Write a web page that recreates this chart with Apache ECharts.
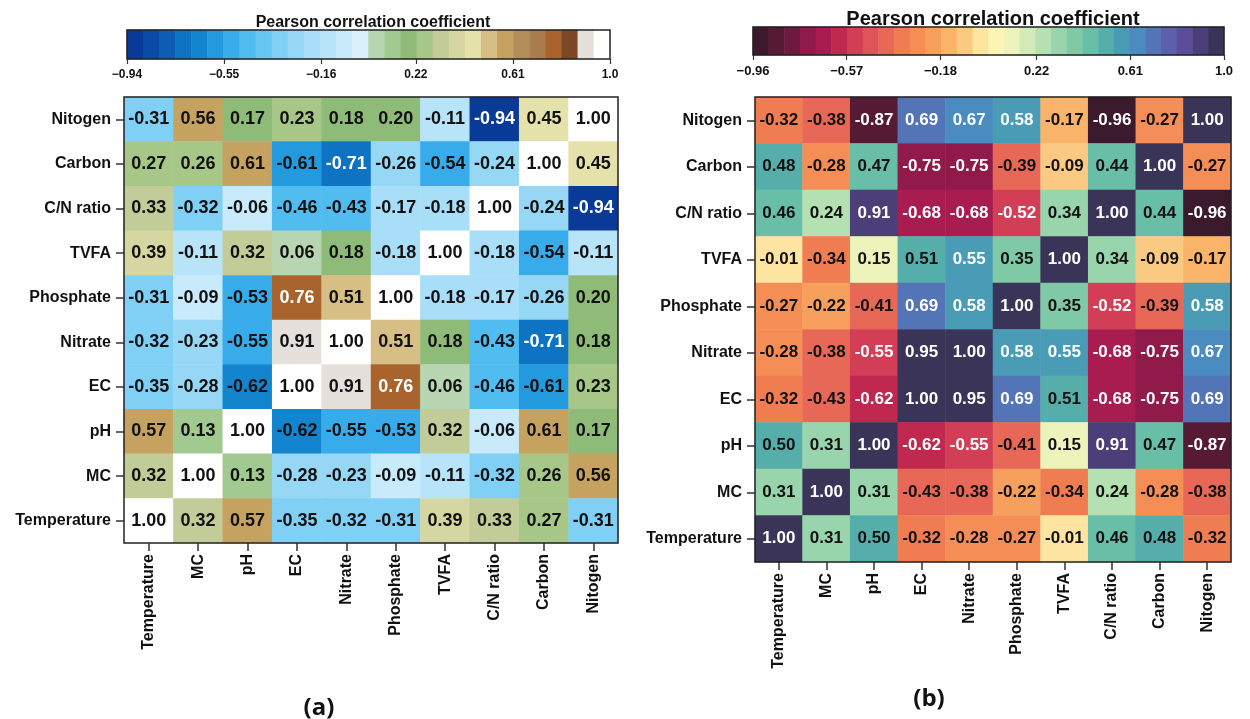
<!DOCTYPE html>
<html>
<head>
<meta charset="utf-8">
<title>Pearson correlation heatmaps</title>
<script src="https://cdn.jsdelivr.net/npm/echarts@6.0.0/dist/echarts.min.js"></script>
<style>
html, body { margin: 0; padding: 0; background: #fff; }
#main { width: 1250px; height: 719px; }
</style>
</head>
<body>
<div id="main"></div>
<script>
var variables = ['Temperature', 'MC', 'pH', 'EC', 'Nitrate', 'Phosphate', 'TVFA', 'C/N ratio', 'Carbon', 'Nitogen'];

// rows from top (Nitogen) to bottom (Temperature), columns in `variables` order
var rowsA = [
    [-0.31, 0.56, 0.17, 0.23, 0.18, 0.20, -0.11, -0.94, 0.45, 1.00],
    [0.27, 0.26, 0.61, -0.61, -0.71, -0.26, -0.54, -0.24, 1.00, 0.45],
    [0.33, -0.32, -0.06, -0.46, -0.43, -0.17, -0.18, 1.00, -0.24, -0.94],
    [0.39, -0.11, 0.32, 0.06, 0.18, -0.18, 1.00, -0.18, -0.54, -0.11],
    [-0.31, -0.09, -0.53, 0.76, 0.51, 1.00, -0.18, -0.17, -0.26, 0.20],
    [-0.32, -0.23, -0.55, 0.91, 1.00, 0.51, 0.18, -0.43, -0.71, 0.18],
    [-0.35, -0.28, -0.62, 1.00, 0.91, 0.76, 0.06, -0.46, -0.61, 0.23],
    [0.57, 0.13, 1.00, -0.62, -0.55, -0.53, 0.32, -0.06, 0.61, 0.17],
    [0.32, 1.00, 0.13, -0.28, -0.23, -0.09, -0.11, -0.32, 0.26, 0.56],
    [1.00, 0.32, 0.57, -0.35, -0.32, -0.31, 0.39, 0.33, 0.27, -0.31]
];
var rowsB = [
    [-0.32, -0.38, -0.87, 0.69, 0.67, 0.58, -0.17, -0.96, -0.27, 1.00],
    [0.48, -0.28, 0.47, -0.75, -0.75, -0.39, -0.09, 0.44, 1.00, -0.27],
    [0.46, 0.24, 0.91, -0.68, -0.68, -0.52, 0.34, 1.00, 0.44, -0.96],
    [-0.01, -0.34, 0.15, 0.51, 0.55, 0.35, 1.00, 0.34, -0.09, -0.17],
    [-0.27, -0.22, -0.41, 0.69, 0.58, 1.00, 0.35, -0.52, -0.39, 0.58],
    [-0.28, -0.38, -0.55, 0.95, 1.00, 0.58, 0.55, -0.68, -0.75, 0.67],
    [-0.32, -0.43, -0.62, 1.00, 0.95, 0.69, 0.51, -0.68, -0.75, 0.69],
    [0.50, 0.31, 1.00, -0.62, -0.55, -0.41, 0.15, 0.91, 0.47, -0.87],
    [0.31, 1.00, 0.31, -0.43, -0.38, -0.22, -0.34, 0.24, -0.28, -0.38],
    [1.00, 0.31, 0.50, -0.32, -0.28, -0.27, -0.01, 0.46, 0.48, -0.32]
];

var rangeA = [-0.94, 1.0];
var rangeB = [-0.96, 1.0];
var ticksA = [-0.94, -0.55, -0.16, 0.22, 0.61, 1.0];
var tickLabelsA = ['\u22120.94', '\u22120.55', '\u22120.16', '0.22', '0.61', '1.0'];
var ticksB = [-0.96, -0.57, -0.18, 0.22, 0.61, 1.0];
var tickLabelsB = ['\u22120.96', '\u22120.57', '\u22120.18', '0.22', '0.61', '1.0'];

var colorsA = ['#0a3a98', '#0b4aa6', '#0d5db5', '#0e73c3', '#1385cf', '#229add', '#38aceb', '#50bcf0',
    '#68c6f2', '#80cff5', '#96d7f6', '#a8def8', '#b8e4f9', '#c8eafa', '#dcf0fb', '#b6d5b0',
    '#a2c990', '#8fbb78', '#a6c788', '#c2cc98', '#d6d6a2', '#e4e1ab', '#d6be84', '#c6a260',
    '#b48e5a', '#a87c4c', '#a8642c', '#7a4824', '#e6e0dc', '#ffffff'];
var colorsB = ['#3a1a2c', '#561a34', '#6e1a3e', '#901a4a', '#a81c50', '#c0284f', '#d23e56', '#de5458',
    '#e86858', '#f07c52', '#f48e56', '#f7a05e', '#f9b46a', '#fbca82', '#fde4a0', '#fdf4b6',
    '#ecf4bc', '#d2eab8', '#b4e0b2', '#98d4ac', '#80c9a6', '#68bea6', '#56aeaa', '#4a9cb6',
    '#4a8cc0', '#5474b8', '#5c60ac', '#5a4e98', '#4a3f78', '#3a3458'];

var font = "'Liberation Sans', Arial, sans-serif";

function makePieces(range, colors) {
    var n = colors.length;
    var step = (range[1] - range[0]) / n;
    var pieces = [];
    for (var i = 0; i < n; i++) {
        var p = { gte: range[0] + i * step - (i === 0 ? 1e-9 : 0), color: colors[i] };
        if (i < n - 1) p.lt = range[0] + (i + 1) * step;
        else p.lte = range[1] + 1e-9;
        pieces.push(p);
    }
    return pieces;
}

function cellData(rows, lightText) {
    var out = [];
    rows.forEach(function (row, r) {
        row.forEach(function (v, c) {
            out.push({
                value: [c, rows.length - 1 - r, v],
                label: { color: lightText(v) ? '#ffffff' : '#111111' }
            });
        });
    });
    return out;
}

function barData(range, n) {
    var step = (range[1] - range[0]) / n;
    var out = [];
    for (var i = 0; i < n; i++) out.push([i, 0, range[0] + (i + 0.5) * step]);
    return out;
}

function binNames(n) {
    var out = [];
    for (var i = 0; i < n; i++) out.push(String(i));
    return out;
}

function heatAxisX(gridIndex) {
    return {
        type: 'category', gridIndex: gridIndex, data: variables, position: 'bottom',
        axisLine: { show: false },
        axisTick: { show: true, alignWithLabel: true, length: 8, lineStyle: { color: '#333', width: 1.5 } },
        axisLabel: { rotate: 90, margin: 11, color: '#111', fontSize: 16, fontWeight: 'bold', fontFamily: font },
        splitLine: { show: false }
    };
}
function heatAxisY(gridIndex) {
    return {
        type: 'category', gridIndex: gridIndex, data: variables,
        axisLine: { show: false },
        axisTick: { show: true, alignWithLabel: true, length: 8, lineStyle: { color: '#333', width: 1.5 } },
        axisLabel: { margin: 13, color: '#111', fontSize: 16, fontWeight: 'bold', fontFamily: font },
        splitLine: { show: false }
    };
}
function barAxisCat(gridIndex, n) {
    return { type: 'category', gridIndex: gridIndex, data: binNames(n), position: 'top', show: false };
}
function barAxisValue(gridIndex, range, ticks, labels, size) {
    return {
        type: 'value', gridIndex: gridIndex, min: range[0], max: range[1], position: 'bottom',
        axisLine: { show: false },
        splitLine: { show: false },
        axisTick: { show: true, length: 5, customValues: ticks, lineStyle: { color: '#333', width: 1.2 } },
        axisLabel: {
            customValues: ticks, margin: 10, color: '#111', fontSize: size, fontWeight: 'bold', fontFamily: font,
            formatter: function (v) {
                var k = ticks.indexOf(v);
                return k >= 0 ? labels[k] : '';
            }
        }
    };
}

function heatSeries(xi, yi, data, size) {
    return {
        type: 'heatmap', xAxisIndex: xi, yAxisIndex: yi, data: data,
        label: {
            show: true, fontSize: size, fontWeight: 'bold', fontFamily: font,
            formatter: function (p) { return p.value[2].toFixed(2); }
        },
        emphasis: { disabled: true }
    };
}

var gridStyle = { show: true, z: 10, backgroundColor: 'transparent', borderColor: '#222', borderWidth: 1.5, containLabel: false };

var option = {
    backgroundColor: '#ffffff',
    animation: false,
    title: [
        { text: 'Pearson correlation coefficient', left: 368, top: 10, textAlign: 'center',
          textStyle: { fontSize: 16, fontWeight: 'bold', color: '#111', fontFamily: font } },
        { text: 'Pearson correlation coefficient', left: 988, top: 4, textAlign: 'center',
          textStyle: { fontSize: 20, fontWeight: 'bold', color: '#111', fontFamily: font } },
        { text: '(a)', left: 314, top: 691, textAlign: 'center',
          textStyle: { fontSize: 24, fontWeight: 'bold', color: '#111', fontFamily: "'Open Sans', sans-serif" } },
        { text: '(b)', left: 924, top: 682, textAlign: 'center',
          textStyle: { fontSize: 24, fontWeight: 'bold', color: '#111', fontFamily: "'Open Sans', sans-serif" } }
    ],
    grid: [
        Object.assign({ left: 124, top: 97, width: 494, height: 446 }, gridStyle),
        Object.assign({ left: 127, top: 30, width: 483, height: 29 }, gridStyle),
        Object.assign({ left: 755, top: 97, width: 476, height: 465 }, gridStyle),
        Object.assign({ left: 753, top: 27, width: 471, height: 28 }, gridStyle)
    ],
    xAxis: [
        heatAxisX(0),
        barAxisCat(1, colorsA.length),
        barAxisValue(1, rangeA, ticksA, tickLabelsA, 12),
        heatAxisX(2),
        barAxisCat(3, colorsB.length),
        barAxisValue(3, rangeB, ticksB, tickLabelsB, 13)
    ],
    yAxis: [
        heatAxisY(0),
        { type: 'category', gridIndex: 1, data: ['0'], show: false },
        heatAxisY(2),
        { type: 'category', gridIndex: 3, data: ['0'], show: false }
    ],
    visualMap: [
        { type: 'piecewise', show: false, dimension: 2, seriesIndex: [0, 1], pieces: makePieces(rangeA, colorsA) },
        { type: 'piecewise', show: false, dimension: 2, seriesIndex: [2, 3], pieces: makePieces(rangeB, colorsB) }
    ],
    series: [
        heatSeries(0, 0, cellData(rowsA, function (v) { return v <= -0.7 || (v >= 0.7 && v < 0.85); }), 18),
        { type: 'heatmap', xAxisIndex: 1, yAxisIndex: 1, data: barData(rangeA, colorsA.length), emphasis: { disabled: true } },
        heatSeries(3, 2, cellData(rowsB, function (v) { return Math.abs(v) >= 0.52; }), 17),
        { type: 'heatmap', xAxisIndex: 4, yAxisIndex: 3, data: barData(rangeB, colorsB.length), emphasis: { disabled: true } }
    ]
};

var myChart = echarts.init(document.getElementById('main'), null, { renderer: 'canvas' });
myChart.setOption(option);
</script>
</body>
</html>
